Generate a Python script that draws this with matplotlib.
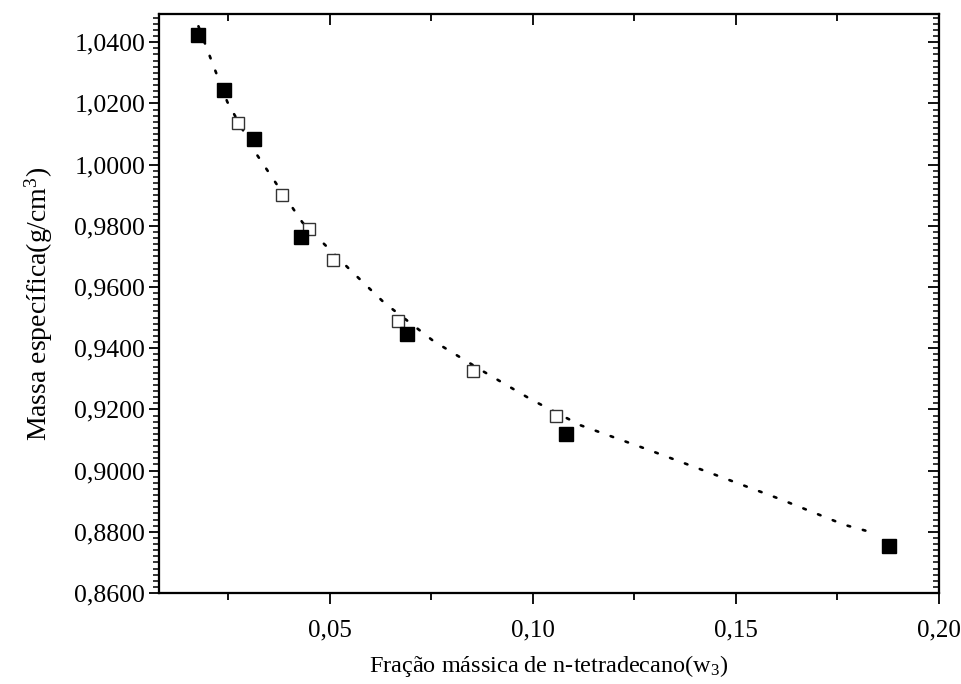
import matplotlib
matplotlib.use("Agg")
import matplotlib.pyplot as plt
from matplotlib.ticker import MultipleLocator, FuncFormatter

plt.rcParams['font.family'] = ['Liberation Serif', 'DejaVu Serif']
plt.rcParams['mathtext.fontset'] = 'custom'
plt.rcParams['mathtext.rm'] = 'Liberation Serif'
plt.rcParams['mathtext.it'] = 'Liberation Serif:italic'

# Filled squares
x_filled = [0.0177, 0.0241, 0.0315, 0.0429, 0.0690, 0.1081, 0.1878]
y_filled = [1.0425, 1.0245, 1.0084, 0.9765, 0.9445, 0.9121, 0.8753]

# Open squares
x_open = [0.0274, 0.0382, 0.0448, 0.0509, 0.0668, 0.0852, 0.1057]
y_open = [1.0136, 0.9902, 0.9790, 0.9688, 0.9489, 0.9324, 0.9178]

# Dotted trend line
x_fit = [0.0177, 0.0213, 0.0248, 0.0316, 0.0373, 0.0433, 0.0552, 0.0634,
         0.0755, 0.0876, 0.0998, 0.1118, 0.1283, 0.1444, 0.1605, 0.1767, 0.1849]
y_fit = [1.0452, 1.0326, 1.0205, 1.0042, 0.9929, 0.9811, 0.9654, 0.9549,
         0.9424, 0.9326, 0.9231, 0.9148, 0.9069, 0.8989, 0.8909, 0.8823, 0.8793]

fig = plt.figure(figsize=(9.61, 6.84), dpi=100)
ax = fig.add_axes([0.1655, 0.133, 0.8115, 0.8465])

ax.plot(x_fit, y_fit, color='black', lw=1.9, linestyle=(0, (1, 5.0)),
        dash_capstyle='round', zorder=2)
ax.plot(x_open, y_open, linestyle='none', marker='s', markersize=8.5,
        markerfacecolor='white', markeredgecolor='#333333', markeredgewidth=1.0, zorder=3)
ax.plot(x_filled, y_filled, linestyle='none', marker='s', markersize=9.8,
        markerfacecolor='black', markeredgecolor='black', zorder=4)

ax.set_xlim(0.008, 0.2)
ax.set_ylim(0.86, 1.0492)

ax.xaxis.set_major_locator(MultipleLocator(0.05))
ax.xaxis.set_minor_locator(MultipleLocator(0.025))
ax.yaxis.set_major_locator(MultipleLocator(0.02))
ax.yaxis.set_minor_locator(MultipleLocator(0.002))

ax.xaxis.set_major_formatter(FuncFormatter(lambda v, p: f"{v:.2f}".replace('.', ',')))
ax.yaxis.set_major_formatter(FuncFormatter(lambda v, p: f"{v:.4f}".replace('.', ',')))

for s in ax.spines.values():
    s.set_linewidth(1.5)

ax.tick_params(axis='x', which='major', direction='out', length=8, width=1.3,
               labelsize=18, pad=11)
ax.tick_params(axis='x', which='minor', direction='out', length=5, width=1.3)
ax.tick_params(axis='y', which='major', direction='out', length=7, width=1.3,
               labelsize=18.5, pad=3)
ax.tick_params(axis='y', which='minor', direction='out', length=4, width=1.1)
ax.tick_params(axis='x', which='both', top=False)
ax.tick_params(axis='y', which='both', right=False)

# top / right inward ticks
axt = ax.twiny()
axt.set_xlim(ax.get_xlim())
axt.xaxis.set_major_locator(MultipleLocator(0.05))
axt.xaxis.set_minor_locator(MultipleLocator(0.025))
axt.tick_params(axis='x', which='major', direction='in', length=8, width=1.3, labeltop=False)
axt.tick_params(axis='x', which='minor', direction='in', length=5, width=1.3)
axr = ax.twinx()
axr.set_ylim(ax.get_ylim())
axr.yaxis.set_major_locator(MultipleLocator(0.02))
axr.yaxis.set_minor_locator(MultipleLocator(0.002))
axr.tick_params(axis='y', which='major', direction='in', length=8, width=1.3, labelright=False)
axr.tick_params(axis='y', which='minor', direction='in', length=4, width=1.1)
for a in (axt, axr):
    for s in a.spines.values():
        s.set_linewidth(1.5)

ax.set_xlabel("Fração mássica de n-tetradecano(w$_3$)", fontsize=17.5, labelpad=8)
ax.set_ylabel("Massa específica(g/cm$^3$)", fontsize=20, labelpad=14)

fig.savefig("out.png", dpi=100)
